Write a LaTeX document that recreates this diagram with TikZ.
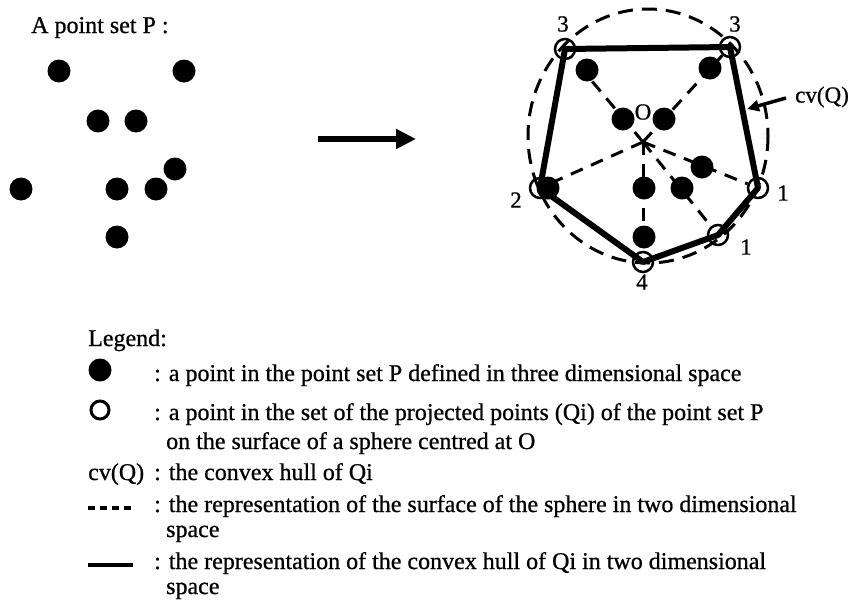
\documentclass[tikz,border=0pt]{standalone}
\usepackage{fontspec}
\setmainfont{Liberation Serif}[FakeBold=0.8]
\usetikzlibrary{arrows.meta}
\begin{document}
\begin{tikzpicture}[x=1pt,y=-1pt,
  txt/.style={font=\fontsize{24}{29}\selectfont, inner sep=0pt, anchor=base west},
  lbl/.style={font=\fontsize{23}{28}\selectfont, inner sep=0pt},
  pdot/.style={circle, fill=black, minimum size=23pt, inner sep=0pt},
  qcirc/.style={circle, draw=black, line width=2.5pt, minimum size=20pt, inner sep=0pt},
  ray/.style={line width=3pt, dash pattern=on 13pt off 9pt},
  sphere/.style={line width=3pt, dash pattern=on 15pt off 9pt},
  hull/.style={line width=6pt, line join=round},
  bigarrow/.style={line width=6pt, -{Triangle[length=20pt,width=19pt]}},
  smallarrow/.style={line width=3.5pt, -{Triangle[length=12pt,width=11pt]}},
]
\useasboundingbox (0,0) rectangle (852,600);

% ---------- left: point set P ----------
\node[txt] (title) at (31,33) {A point set P :};
\node[pdot] (l1) at (59,71) {};
\node[pdot] (l2) at (184,71) {};
\node[pdot] (l3) at (98,121) {};
\node[pdot] (l4) at (136,121) {};
\node[pdot] (l5) at (175,169) {};
\node[pdot] (l6) at (21,189) {};
\node[pdot] (l7) at (117,189) {};
\node[pdot] (l8) at (156,189) {};
\node[pdot] (l9) at (117,237) {};

% ---------- middle arrow ----------
\coordinate (a1) at (318,139);
\coordinate (a2) at (416,139);
\draw[bigarrow] (a1) -- (a2);

% ---------- right: projection ----------
\coordinate (c) at (643,142);
\draw[sphere] (648,136) ellipse [x radius=120, y radius=127];

\node[qcirc] (q3a) at (565,49) {};
\node[qcirc] (q3b) at (730,47) {};
\node[qcirc] (q1a) at (758,188) {};
\node[qcirc] (q1b) at (718,235) {};
\node[qcirc] (q4) at (643,262) {};
\node[qcirc] (q2) at (540,188) {};

\draw[ray] (c) -- (q3a);
\draw[ray] (c) -- (q3b);
\draw[ray] (c) -- (q1a);
\draw[ray] (c) -- (q1b);
\draw[ray] (c) -- (q4);
\draw[ray] (c) -- (q2);

\draw[hull] (q3a.center) -- (q3b.center) -- (q1a.center) -- (q1b.center)
  -- (q4.center) -- (q2.center) -- cycle;

\node[pdot] (r1) at (587,70) {};
\node[pdot] (r2) at (710,68) {};
\node[pdot] (r3) at (623,119) {};
\node[pdot] (r4) at (664,119) {};
\node[pdot] (r5) at (702,167) {};
\node[pdot] (r6) at (548,188) {};
\node[pdot] (r7) at (644,188) {};
\node[pdot] (r8) at (682,188) {};
\node[pdot] (r9) at (644,237) {};

\node[lbl] (lO) at (643,112) {O};
\node[lbl] (n3a) at (563,24) {3};
\node[lbl] (n3b) at (735,24) {3};
\node[lbl] (n2) at (516,200) {2};
\node[lbl] (n1a) at (783,193) {1};
\node[lbl] (n1b) at (746,247) {1};
\node[lbl] (n4) at (642,282) {4};

\node[lbl, anchor=west] (cv) at (795,97) {cv(Q)};
\coordinate (cvtip) at (747,109);
\draw[smallarrow] (cv.west) ++(-9,1) coordinate (cvstart) (cvstart) -- (cvtip);

% ---------- legend ----------
\node[txt] (leg) at (88,346) {Legend:};
\node[pdot] (sym1) at (100,370) {};
\node[txt] (t1) at (154,381) {: a point in the point set P defined in three dimensional space};
\node[qcirc, line width=3pt, minimum size=18pt] (sym2) at (100,410) {};
\node[txt] (t2) at (154,420) {: a point in the set of the projected points (Qi) of the point set P};
\node[txt] (t2b) at (166,449) {on the surface of a sphere centred at O};
\node[txt] (sym3) at (88,480) {cv(Q)};
\node[txt] (t3) at (154,480) {: the convex hull of Qi};
\coordinate (d1) at (88,508);
\coordinate (d2) at (131,508);
\draw[line width=4pt, dash pattern=on 7pt off 5pt] (d1) -- (d2);
\node[txt] (t4) at (154,512) {: the representation of the surface of the sphere in two dimensional};
\node[txt] (t4b) at (166,537) {space};
\coordinate (s1) at (88,565);
\coordinate (s2) at (133,565);
\draw[line width=4pt] (s1) -- (s2);
\node[txt] (t5) at (154,569) {: the representation of the convex hull of Qi in two dimensional};
\node[txt] (t5b) at (166,594) {space};
\end{tikzpicture}
\end{document}
